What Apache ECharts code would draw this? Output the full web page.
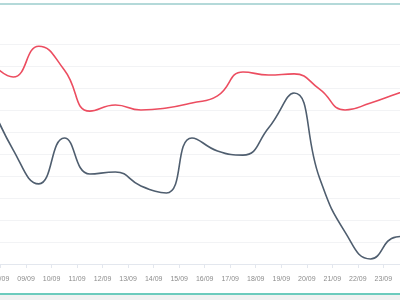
<!DOCTYPE html>
<html>
<head>
<meta charset="utf-8">
<script src="https://cdn.jsdelivr.net/npm/echarts@6/dist/echarts.min.js"></script>
<style>
  html, body { margin: 0; padding: 0; background: #ffffff; }
  #wrap { position: relative; width: 400px; height: 300px; overflow: hidden; }
  #chart { position: absolute; left: 0; top: 0; width: 400px; height: 300px; }
  #topBorder { position: absolute; left: 0; top: 3px; width: 400px; height: 2px; background: #b4d9d9; }
  #bottomBorder { position: absolute; left: 0; top: 293px; width: 400px; height: 2px; background: #6ccbbd; }
  #bottomBand { position: absolute; left: 0; top: 295px; width: 400px; height: 5px; background: #f0f1f1; }
</style>
</head>
<body>
<div id="wrap">
  <div id="chart"></div>
  <div id="topBorder"></div>
  <div id="bottomBorder"></div>
  <div id="bottomBand"></div>
</div>
<script>
// Tick labels (day boundaries), one per integer x position
var dateLabels = ['07/09','08/09','09/09','10/09','11/09','12/09','13/09','14/09','15/09','16/09',
                  '17/09','18/09','19/09','20/09','21/09','22/09','23/09','24/09','25/09'];
// Daily values, plotted at the middle of each day (07/09 .. 24/09)
var redValues  = [93.6, 85, 99, 88.2, 69.5, 72.3, 70, 70.9, 73.2, 76.4, 87.3, 85.9, 86.4, 79.5, 70, 73.2, 77.3, 81.4];
var darkValues = [76.8, 51.8, 36.4, 57.3, 40.9, 41.8, 35.5, 32.3, 57.3, 51.4, 49.5, 61.8, 77.7, 39.1, 14.5, 2.3, 12.3, 13];

function toPoints(vals) {
  return vals.map(function (v, i) { return [i + 0.5, v]; });
}

var chart = echarts.init(document.getElementById('chart'), null, { renderer: 'canvas' });
chart.setOption({
  animation: false,
  grid: { left: -25, top: 44, width: 459.4, bottom: 36, containLabel: false, outerBoundsMode: 'none' },
  xAxis: {
    type: 'value',
    min: 0,
    max: 18,
    interval: 1,
    axisLine: { show: true, lineStyle: { color: '#e3e7ee', width: 1 } },
    axisTick: { show: true, length: 4, lineStyle: { color: '#e3e7ee' } },
    splitLine: { show: false },
    axisLabel: {
      show: true,
      color: '#8c8c8c',
      fontSize: 7,
      fontFamily: 'Liberation Sans, Arial, sans-serif',
      margin: 12,
      showMinLabel: true,
      showMaxLabel: true,
      formatter: function (v) { return dateLabels[Math.round(v)] || ''; }
    }
  },
  yAxis: {
    type: 'value',
    min: 0,
    max: 100,
    interval: 10,
    axisLine: { show: false },
    axisTick: { show: false },
    axisLabel: { show: false },
    splitLine: { show: true, lineStyle: { color: '#f2f3f5', width: 1 } }
  },
  series: [
    {
      type: 'line',
      data: toPoints(redValues),
      smooth: 0.5,
      showSymbol: false,
      lineStyle: { color: '#ec4d60', width: 1.6 }
    },
    {
      type: 'line',
      data: toPoints(darkValues),
      smooth: 0.5,
      showSymbol: false,
      lineStyle: { color: '#4f5e6f', width: 1.6 }
    }
  ]
});
</script>
</body>
</html>
